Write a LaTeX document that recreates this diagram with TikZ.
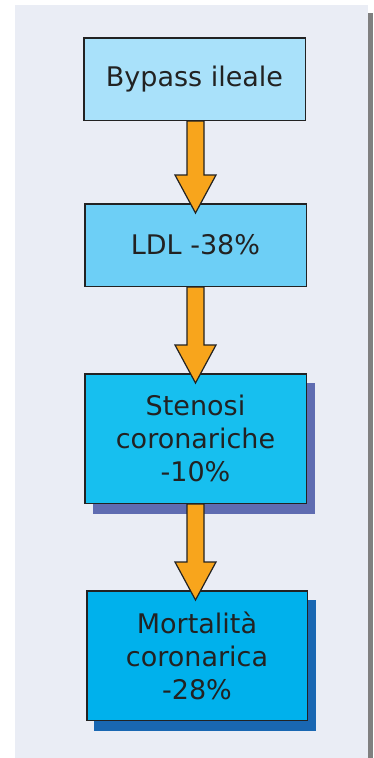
\documentclass[tikz,border=0pt]{standalone}
\usepackage{fontspec}
\setmainfont{DejaVu Sans}
\usetikzlibrary{calc}
\definecolor{panelc}{HTML}{EAEDF5}
\definecolor{stripc}{HTML}{808080}
\definecolor{boxa}{HTML}{A9E1FA}
\definecolor{boxb}{HTML}{6DCFF6}
\definecolor{boxc}{HTML}{17BFEF}
\definecolor{boxd}{HTML}{00B1EC}
\definecolor{shadc}{HTML}{5F6CB1}
\definecolor{shadd}{HTML}{1967B2}
\definecolor{arrc}{HTML}{F8A51C}
\definecolor{inkc}{HTML}{222222}
\tikzset{
  flowbox/.style={draw=inkc, line width=1.5pt, minimum width=221.5pt, inner sep=0pt,
    align=center, text=inkc, font=\fontsize{27}{33}\selectfont},
  shortbox/.style={flowbox, minimum height=82.5pt},
  tallbox/.style={flowbox, minimum height=129.5pt},
  arr/.style={draw=inkc, line width=1.2pt, fill=arrc, line join=miter}
}
\newcommand\flowarrow[2]{%
  \draw[arr] let \p1=(#1.south), \p2=(#2.north) in
    (195.5pt-8.5pt,\y1) -- (195.5pt+8.5pt,\y1) -- (195.5pt+8.5pt,\y2+28pt)
    -- (195.5pt+20.5pt,\y2+28pt) -- (195.5pt,\y2-10pt) -- (195.5pt-20.5pt,\y2+28pt)
    -- (195.5pt-8.5pt,\y2+28pt) -- cycle;}
\begin{document}
\begin{tikzpicture}[x=1pt,y=-1pt]
\useasboundingbox (0,0) rectangle (373,758);
\fill[panelc] (15,5) rectangle (368,758);
\fill[stripc] (368,13) rectangle (373,758);
% shadows
\fill[shadc] (93,383) rectangle (315,514);
\fill[shadd] (94,600) rectangle (316,731);
% boxes
\node[shortbox, fill=boxa] (b1) at (194.5,79) {Bypass ileale};
\node[shortbox, fill=boxb] (b2) at (195.5,245) {LDL -38\%};
\node[tallbox, fill=boxc] (b3) at (195.5,438.5) {Stenosi\\coronariche\\-10\%};
\node[tallbox, fill=boxd, minimum width=220.5pt] (b4) at (197,655.5) {Mortalità\\coronarica\\-28\%};
% arrows
\flowarrow{b1}{b2}
\flowarrow{b2}{b3}
\flowarrow{b3}{b4}
\end{tikzpicture}
\end{document}
